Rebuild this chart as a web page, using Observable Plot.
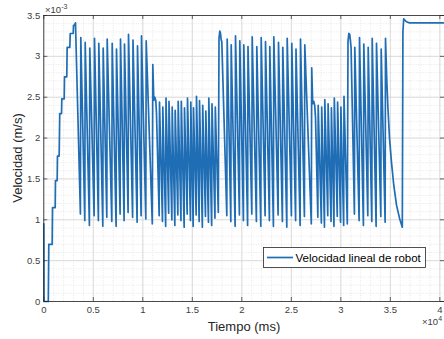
<!DOCTYPE html>
<html><head><meta charset="utf-8">
<script src="https://cdn.jsdelivr.net/npm/d3@7"></script>
<script src="https://cdn.jsdelivr.net/npm/@observablehq/plot@0.6"></script>
<style>
body{margin:0;background:#fff;}
#chart{width:444px;height:339px;overflow:hidden;position:relative;}
svg{font-family:"Liberation Sans",Arial,Helvetica,sans-serif;}
</style></head><body><div id="chart"></div>
<script>
// Time in ms, velocity in units of 1e-3 m/s
const tiempoMs = [
0,20,455,505,848,880,1150,1180,1350,1380,1550,1610,1790,1820,2060,2090,2320,2360,2630,2670,2970,3000,3100,3200,
3697,3737,4141,4181,4606,4646,5080,5121,5515,5555,5959,5999,6363,6403,6868,6908,7302,7343,7706,7747,8110,8151,8514,8555,8969,9009,9423,9464,9827,9868,10302,10342,
10959,11009,11110,11211,11312,11383,
11650,11686,11984,12019,12307,12342,12610,12645,12933,12968,13236,13271,13539,13574,13852,13888,14176,14211,14479,14514,14812,14847,15084,15120,15387,15423,15690,15726,16014,16049,16327,16362,16630,16665,16953,16988,17286,17322,
17625,17695,17776,17847,17917,17978,
18483,18523,18887,18927,19321,19362,19756,19796,20160,20200,20584,20624,21008,21048,21473,21513,21917,21957,22351,22392,22786,22826,23190,23230,23665,23705,24099,24139,24543,24583,25008,25048,25432,25472,25887,25927,26321,26361,
27018,27058,27159,27260,27361,27442,
27679,27714,28033,28068,28346,28381,28679,28714,29012,29048,29305,29341,29639,29674,29972,30007,30285,30320,
30654,30724,30805,30896,30977,31037,
31371,31411,31846,31886,32280,32320,32724,32764,33128,33168,33563,33603,34037,34077,34472,34512,
34643,34764,34916,35118,35350,35623,35926,36209,
36270,36350,36481,36683,36936,40470
];
const velocidad = [
0.95,0,0,0.70,0.70,1.15,1.15,1.48,1.48,1.78,1.78,2.30,2.30,2.48,2.48,2.75,2.75,3.11,3.11,3.28,3.28,3.38,3.38,3.41,
1.07,3.23,0.99,3.17,0.93,3.10,1.05,3.22,0.99,3.16,0.92,3.10,1.03,3.21,0.98,3.16,0.92,3.09,1.07,3.21,0.99,3.15,1.09,3.27,1.03,3.20,0.97,3.13,1.05,3.25,1.01,3.19,
0.95,2.90,2.46,2.50,2.46,2.30,
1.05,2.44,0.98,2.38,0.92,2.49,1.08,2.45,1.00,2.38,0.93,2.34,1.06,2.45,0.99,2.45,0.91,2.37,1.07,2.49,0.99,2.44,0.92,2.37,1.06,2.51,0.98,2.46,0.91,2.40,1.04,2.33,0.97,2.49,0.93,2.42,1.02,2.38,
1.09,3.22,3.31,3.28,3.20,3.18,
1.05,3.21,0.98,3.14,0.92,3.25,1.06,3.19,0.99,3.14,0.93,3.12,1.07,3.24,0.98,3.12,0.92,3.23,1.05,3.18,0.99,3.12,0.92,3.24,1.06,3.17,0.98,3.11,0.91,3.22,1.05,3.16,0.99,3.09,0.93,3.21,1.04,3.14,
0.95,2.86,2.42,2.45,2.40,2.25,
1.03,2.40,0.96,2.38,0.91,2.47,1.05,2.42,0.98,2.37,0.92,2.49,1.04,2.44,0.97,2.38,0.93,2.51,
0.95,3.18,3.28,3.27,3.18,3.10,
1.07,3.11,0.99,3.23,0.93,3.15,1.05,3.11,0.98,3.22,0.92,3.16,1.04,3.09,0.97,3.22,
2.70,2.35,2.00,1.70,1.42,1.18,1.02,0.91,
3.30,3.46,3.44,3.42,3.41,3.41
];
const xTicks = [0,5000,10000,15000,20000,25000,30000,35000,40000];
const xTickLabels = ["0","0.5","1","1.5","2","2.5","3","3.5","4"];
const yTicks = [0,0.5,1,1.5,2,2.5,3,3.5];
const yTickLabels = ["0","0.5","1","1.5","2","2.5","3","3.5"];
const xMinor = d3.range(0, 40471, 1000);
const yMinor = d3.range(0, 36, 1).map(d => d / 10);
const seriesName = "Velocidad lineal de robot";
const xLabel = "Tiempo (ms)";
const yLabel = "Velocidad (m/s)";

const data = tiempoMs.map((t, i) => ({t, v: velocidad[i]}));
const W = 444, H = 339, mL = 43.3, mR = 0, mT = 15, mB = 38;
const pw = W - mL - mR, ph = H - mT - mB;
const axisColor = "#262626";
const lineColor = "#1f6db5";

const plot = Plot.plot({
  width: W, height: H,
  marginLeft: mL, marginRight: mR, marginTop: mT, marginBottom: mB,
  style: {background: "#fff", fontFamily: "'Liberation Sans', Arial, sans-serif", fontSize: "9.5px", color: "#404040", overflow: "hidden"},
  x: {domain: [0, 40470]},
  y: {domain: [0, 3.5]},
  marks: [
    Plot.ruleX(xMinor, {stroke: "#dedede", strokeDasharray: "1,1.5", strokeWidth: 0.7}),
    Plot.ruleY(yMinor, {stroke: "#dedede", strokeDasharray: "1,1.5", strokeWidth: 0.7}),
    Plot.ruleX(xTicks, {stroke: "#d4d4d4", strokeWidth: 0.8}),
    Plot.ruleY(yTicks, {stroke: "#d4d4d4", strokeWidth: 0.8}),
    Plot.line(data, {x: "t", y: "v", stroke: lineColor, strokeWidth: 1.7, strokeLinejoin: "round"}),
    Plot.tickX(xTicks, {insetTop: ph - 4, stroke: axisColor, strokeWidth: 0.7}),
    Plot.tickX(xTicks, {insetBottom: ph - 4, stroke: axisColor, strokeWidth: 0.7}),
    Plot.tickY(yTicks, {insetRight: pw - 4, stroke: axisColor, strokeWidth: 0.7}),
    Plot.tickY(yTicks, {insetLeft: pw - 4, stroke: axisColor, strokeWidth: 0.7}),
    Plot.frame({stroke: axisColor, strokeWidth: 0.8}),
    Plot.axisX(xTicks, {tickSize: 0, tickPadding: 5, tickFormat: d => xTickLabels[xTicks.indexOf(d)], label: null}),
    Plot.axisY(yTicks, {tickSize: 0, tickPadding: 3.5, tickFormat: d => yTickLabels[yTicks.indexOf(d)], label: null})
  ]
});
document.getElementById("chart").appendChild(plot);

const svg = d3.select(plot);
const font = "'Liberation Sans', Arial, sans-serif";
// axis titles
svg.append("text").attr("x", 244).attr("y", 331).attr("text-anchor", "middle")
  .attr("font-size", 13).attr("fill", "#262626").attr("font-family", font).text(xLabel);
svg.append("text").attr("transform", "translate(22,158) rotate(-90)").attr("text-anchor", "middle")
  .attr("font-size", 13).attr("fill", "#262626").attr("font-family", font).text(yLabel);
// exponent labels
const e1 = svg.append("text").attr("x", 45).attr("y", 13).attr("text-anchor", "start")
  .attr("font-size", 9.5).attr("fill", "#404040").attr("font-family", font);
e1.append("tspan").text("\u00d710");
e1.append("tspan").attr("dy", -4).attr("font-size", 7).text("-3");
const e2 = svg.append("text").attr("x", 422).attr("y", 325).attr("text-anchor", "start")
  .attr("font-size", 9.5).attr("fill", "#404040").attr("font-family", font);
e2.append("tspan").text("\u00d710");
e2.append("tspan").attr("dy", -4).attr("font-size", 7).text("4");
// legend
const lg = svg.append("g");
lg.append("rect").attr("x", 263.5).attr("y", 247.5).attr("width", 162).attr("height", 20)
  .attr("fill", "#fff").attr("stroke", axisColor).attr("stroke-width", 0.8);
lg.append("line").attr("x1", 267).attr("x2", 293).attr("y1", 257.5).attr("y2", 257.5)
  .attr("stroke", lineColor).attr("stroke-width", 1.7);
lg.append("text").attr("x", 295.5).attr("y", 261.8).attr("text-anchor", "start").attr("font-size", 11.5).attr("fill", "#000")
  .attr("font-family", font).text(seriesName);
</script></body></html>
